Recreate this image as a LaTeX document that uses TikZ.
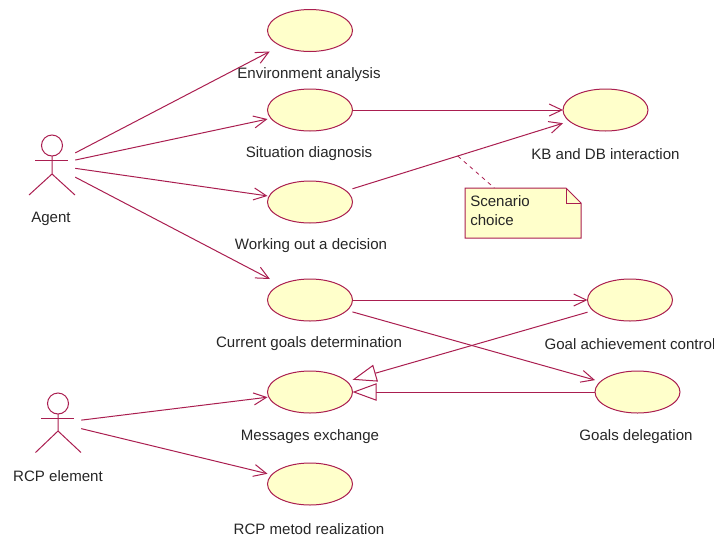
\documentclass[tikz,border=0pt]{standalone}
\usepackage{fontspec}
\setmainfont{Liberation Sans}
\usetikzlibrary{arrows.meta}
\definecolor{umlline}{RGB}{170,30,80}
\definecolor{umlfill}{RGB}{255,255,203}
\tikzset{
usecasebox/.style={rectangle,minimum width=63.75pt,minimum height=31.5pt,inner sep=0pt,outer sep=0pt},
usecaseshape/.style={draw=umlline,fill=umlfill,line width=0.75pt},
actorbox/.style={rectangle,minimum width=34.5pt,minimum height=45pt,inner sep=0pt},
caption/.style={text=black!85,font=\fontsize{11.3}{14.25}\selectfont,inner sep=0pt},
notebox/.style={rectangle,minimum width=87pt,minimum height=37.5pt,inner sep=0pt,outer sep=0pt},
notetext/.style={text=black!85,font=\fontsize{11.3}{14.25}\selectfont,inner sep=0pt,align=left,anchor=west},
assoc/.style={draw=umlline,line width=0.75pt,-{Straight Barb[length=9.5pt,width=9pt]}},
general/.style={draw=umlline,line width=0.75pt,-{Triangle[open,fill=white,length=18pt,width=13pt]}},
link/.style={draw=umlline,line width=0.6pt,dashed}
}
\newcommand{\usecase}[2]{\node[usecasebox] (#1) at (#2) {};
\draw[usecaseshape] (#1.center) ellipse (42.5 and 21);}
\begin{document}
\begin{tikzpicture}[x=0.75pt,y=-0.75pt]
\useasboundingbox (0,0) rectangle (714,536);

\usecase{env}{310,30.5}
\usecase{situation}{310,110}
\usecase{working}{310,202}
\usecase{current}{310,300}
\usecase{messages}{310,392}
\usecase{metod}{310,484}
\usecase{kb}{605.5,110}
\usecase{control}{630,300}
\usecase{delegation}{637.5,392}

\node[caption] (envtext) at (309,75) {Environment analysis};
\node[caption] (situationtext) at (309,154) {Situation diagnosis};
\node[caption] (workingtext) at (311,246) {Working out a decision};
\node[caption] (currenttext) at (309,344) {Current goals determination};
\node[caption] (messagestext) at (310,437) {Messages exchange};
\node[caption] (metodtext) at (309,529) {RCP metod realization};
\node[caption] (kbtext) at (605.5,154) {KB and DB interaction};
\node[caption] (controltext) at (630,344) {Goal achievement control};
\node[caption] (delegationtext) at (636,437) {Goals delegation};

\node[actorbox] (agent) at (52,165) {};
\node[caption] (agenttext) at (51,219) {Agent};
\begin{scope}[shift={(agent.center)},draw=umlline,line width=0.75pt]
\draw (0,-19.5) circle (10.5);
\draw (-17,-5) -- (16,-5);
\draw (0,-9) -- (0,9) -- (-23,30);
\draw (0,9) -- (23,30);
\end{scope}

\node[actorbox] (rcp) at (58,423) {};
\node[caption] (rcptext) at (58,476) {RCP element};
\begin{scope}[shift={(rcp.center)},draw=umlline,line width=0.75pt]
\draw (0,-19.5) circle (10.5);
\draw (-17,-5) -- (16,-5);
\draw (0,-9) -- (0,8) -- (-22.5,29.5);
\draw (0,8) -- (23,29.5);
\end{scope}

\draw[assoc] (agent) -- (env);
\draw[assoc] (agent) -- (situation);
\draw[assoc] (agent) -- (working);
\draw[assoc] (agent) -- (current);
\draw[assoc] (rcp) -- (messages);
\draw[assoc] (rcp) -- (metod);
\draw[assoc] (situation) -- (kb);
\draw[assoc] (working) -- coordinate[pos=0.5] (choicepoint) (kb);
\draw[assoc] (current) -- (control);
\draw[assoc] (current) -- (delegation);
\draw[general] (control) -- (messages);
\draw[general] (delegation) -- (messages);

\node[notebox] (note) at (523,213) {};
\draw[draw=umlline,fill=umlfill,line width=0.75pt] (note.north west) -- ([xshift=-11.25pt]note.north east) -- ([yshift=-11.25pt]note.north east) -- (note.south east) -- (note.south west) -- cycle;
\draw[draw=umlline,line width=0.75pt] ([xshift=-11.25pt]note.north east) -- ([xshift=-11.25pt,yshift=-11.25pt]note.north east) -- ([yshift=-11.25pt]note.north east);
\node[notetext] (notelabel) at (470,211) {Scenario\\choice};
\draw[link] (choicepoint) -- (note);
\end{tikzpicture}
\end{document}
